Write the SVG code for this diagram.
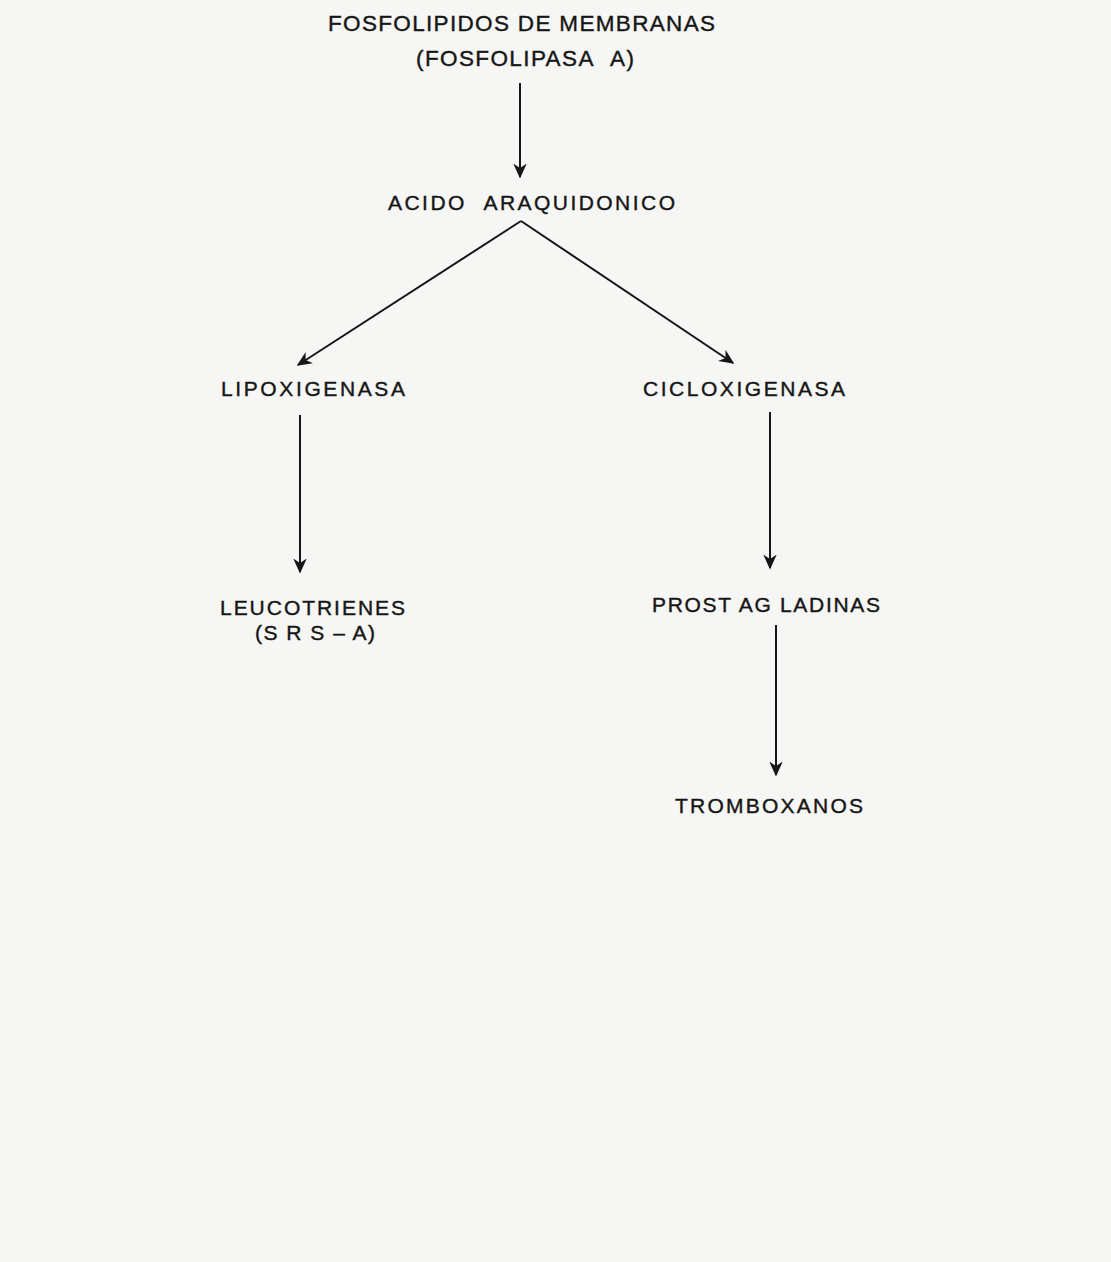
<svg xmlns="http://www.w3.org/2000/svg" width="1111" height="1262" viewBox="0 0 1111 1262">
<style>
.t{font-family:"Liberation Sans",Arial,sans-serif;font-size:21px;fill:#161616;stroke:#161616;stroke-width:0.4;}
.h{font-size:22.5px;}
.c{stroke:#161616;stroke-width:2;fill:none;marker-end:url(#ah);}
</style>
<defs>
<marker id="ah" viewBox="0 0 10 10" refX="9" refY="5" markerWidth="7.5" markerHeight="7.5" markerUnits="strokeWidth" orient="auto">
<path d="M0,0.5 L10,5 L0,9.5 L3,5 Z" fill="#161616"/>
</marker>
</defs>
<rect width="1111" height="1262" fill="#f6f6f4"/>
<g id="connectors">
<line class="c" x1="520" y1="83" x2="520" y2="177"/>
<line class="c" x1="521" y1="221" x2="298" y2="365"/>
<line class="c" x1="521" y1="221" x2="733" y2="363"/>
<line class="c" x1="300" y1="415" x2="300" y2="572"/>
<line class="c" x1="770" y1="412" x2="770" y2="568"/>
<line class="c" x1="776" y1="625" x2="776" y2="775"/>
</g>
<g id="fosfolipidos">
<text class="t h" x="328" y="31" textLength="387" lengthAdjust="spacing">FOSFOLIPIDOS DE MEMBRANAS</text>
<text class="t h" x="416" y="66" textLength="218" lengthAdjust="spacing">(FOSFOLIPASA&#160;&#160;A)</text>
</g>
<g id="acido">
<text class="t" x="388" y="210" textLength="287" lengthAdjust="spacing">ACIDO&#160;&#160;ARAQUIDONICO</text>
</g>
<g id="lipoxigenasa">
<text class="t" x="221" y="396" textLength="184" lengthAdjust="spacing">LIPOXIGENASA</text>
</g>
<g id="cicloxigenasa">
<text class="t" x="643" y="396" textLength="202" lengthAdjust="spacing">CICLOXIGENASA</text>
</g>
<g id="leucotrienes">
<text class="t" x="220" y="615" textLength="185" lengthAdjust="spacing">LEUCOTRIENES</text>
<text class="t" x="255" y="640" textLength="120" lengthAdjust="spacing">(S R S – A)</text>
</g>
<g id="prostagladinas">
<text class="t" x="652" y="612" textLength="228" lengthAdjust="spacing">PROST AG LADINAS</text>
</g>
<g id="tromboxanos">
<text class="t" x="675" y="813" textLength="188" lengthAdjust="spacing">TROMBOXANOS</text>
</g>
</svg>
